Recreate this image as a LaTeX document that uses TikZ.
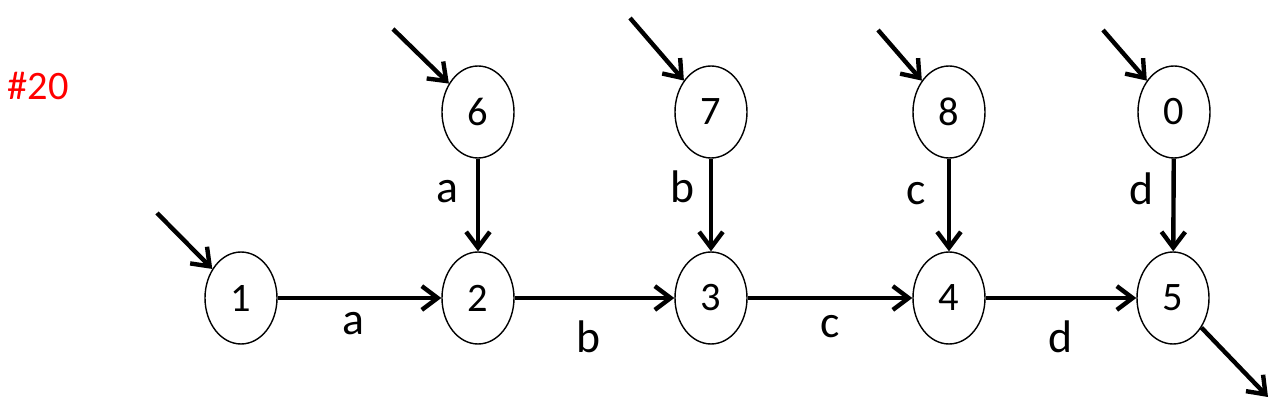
\documentclass[tikz,border=0pt]{standalone}
\usepackage{fontspec}
\setmainfont{Carlito}
\usepackage{xcolor}
\usepackage{tikz}
\usetikzlibrary {arrows.meta,shapes.geometric}

\tikzset{
  state/.style = {draw, ellipse, line width=0.8pt, minimum width=1.44cm,
                  minimum height=1.84cm, inner sep=0pt, font=\fontsize{23}{27}\selectfont},
  trans/.style = {line width=2.5pt, -{Straight Barb[length=9pt,width=13.5pt,line width=2.5pt]}},
  lbl/.style   = {anchor=base, inner sep=0pt, font=\fontsize{26}{30}\selectfont}
}

\begin{document}
\begin{tikzpicture}
\useasboundingbox (0,0) rectangle (25.6,8.08);

\node (title) at (0.76,6.08) [anchor=base, text=red, font=\fontsize{23}{27}\selectfont]{\#20};

\node (n1) at (4.82,2.12) [state]{1};
\node (n2) at (9.56,2.12) [state]{2};
\node (n3) at (14.22,2.12) [state]{3};
\node (n4) at (18.98,2.12) [state]{4};
\node (n5) at (23.46,2.12) [state]{5};
\node (n6) at (9.56,5.84) [state]{6};
\node (n7) at (14.22,5.84) [state]{7};
\node (n8) at (18.98,5.84) [state]{8};
\node (n0) at (23.48,5.84) [state]{0};

\coordinate (s1) at (3.14,3.82);
\coordinate (s6) at (7.86,7.5);
\coordinate (s7) at (12.6,7.72);
\coordinate (s8) at (17.56,7.48);
\coordinate (s0) at (22.06,7.48);
\coordinate (f5) at (25.36,0.14);

\draw [trans] (s1) -- (n1);
\draw [trans] (s6) -- (n6);
\draw [trans] (s7) -- (n7);
\draw [trans] (s8) -- (n8);
\draw [trans] (s0) -- (n0);
\draw [trans] (n5) -- (f5);

\draw [trans] (n1) -- (n2);
\draw [trans] (n2) -- (n3);
\draw [trans] (n3) -- (n4);
\draw [trans] (n4) -- (n5);
\draw [trans] (n6) -- (n2);
\draw [trans] (n7) -- (n3);
\draw [trans] (n8) -- (n4);
\draw [trans] (n0) -- (n5);

\node (la1) at (7.06,1.38) [lbl]{a};
\node (lb1) at (11.76,1.04) [lbl]{b};
\node (lc1) at (16.6,1.32) [lbl]{c};
\node (ld1) at (21.2,1.04) [lbl]{d};
\node (la2) at (8.94,4.02) [lbl]{a};
\node (lb2) at (13.64,4.02) [lbl]{b};
\node (lc2) at (18.32,3.98) [lbl]{c};
\node (ld2) at (22.82,3.98) [lbl]{d};

\end{tikzpicture}
\end{document}
